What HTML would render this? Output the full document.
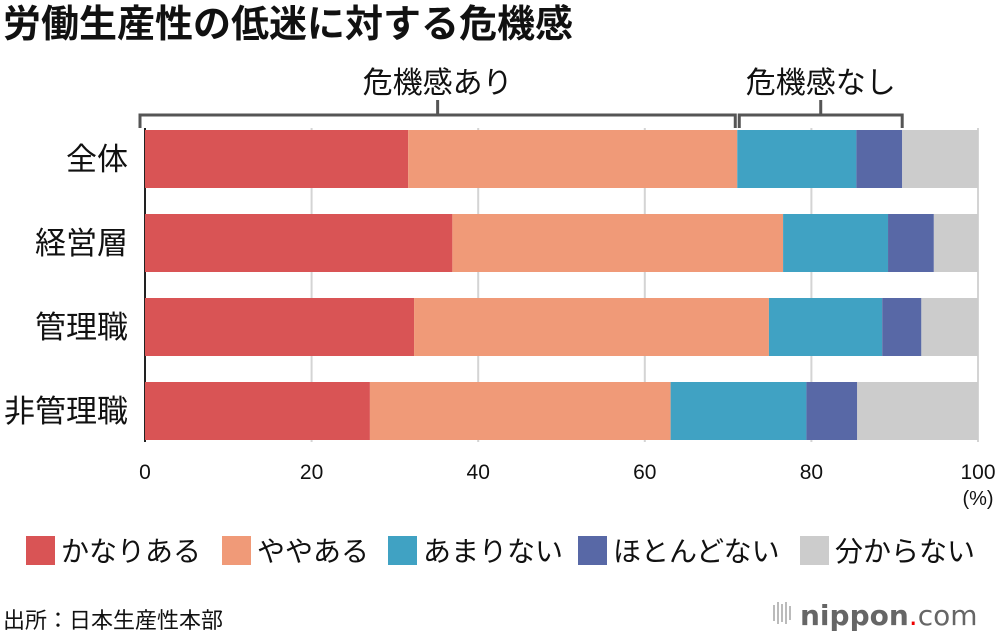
<!DOCTYPE html>
<html><head><meta charset="utf-8"><style>
body{margin:0;background:#fff;width:1000px;height:640px;overflow:hidden;font-family:"Liberation Sans","Noto Sans CJK JP",sans-serif;}
svg{display:block}
</style></head><body>
<svg width="1000" height="640" id="c" font-family="Liberation Sans, Noto Sans CJK JP, sans-serif">
<text x="3" y="37" font-size="38" font-weight="bold" fill="#111">労働生産性の低迷に対する危機感</text>
<g id="grid"></g><g id="bars"></g><g id="axis"></g><g id="brk"></g><g id="legend"></g>
<text x="3" y="628" font-size="22" fill="#111">出所：日本生産性本部</text>
<g>
<g fill="#bbb"><rect x="773" y="605" width="2" height="16"/><rect x="777" y="602" width="2" height="22"/><rect x="781" y="604" width="2" height="18"/><rect x="785" y="602" width="2" height="22"/><rect x="789" y="606" width="2" height="14"/></g>
<text x="800" y="625" font-size="28" fill="#666" font-family="DejaVu Sans, sans-serif"><tspan font-weight="bold">nippon</tspan><tspan fill="#e00">.</tspan><tspan>com</tspan></text>
</g>
</svg>
<script>
const categories=["全体","経営層","管理職","非管理職"];
const seriesNames=["かなりある","ややある","あまりない","ほとんどない","分からない"];
const colors=["#d95455","#f09a78","#40a2c3","#5868a6","#cccccc"];
const s1=[31.6,36.9,32.3,27.0];
const s2=[39.5,39.7,42.6,36.1];
const s3=[14.3,12.6,13.6,16.3];
const s4=[5.5,5.5,4.7,6.1];
const s5=[9.1,5.3,6.8,14.5];
const ticks=[0,20,40,60,80,100];
const NS="http://www.w3.org/2000/svg";
const X0=145,X1=978,x=v=>X0+(X1-X0)*v/100;
const y0=130,step=84,bh=58;
function el(t,a,p){const e=document.createElementNS(NS,t);for(const k in a)e.setAttribute(k,a[k]);document.getElementById(p).appendChild(e);return e;}
ticks.forEach(t=>{const l=el('line',{x1:x(t),x2:x(t),y1:128,y2:442,stroke:t==0?'#222':'#d4d4d4','stroke-width':2},'grid');


const tx=el('text',{x:x(t),y:479,'font-size':21,'text-anchor':'middle',fill:'#111'},'axis');tx.textContent=t;

});
const u=el('text',{x:978,y:505,'font-size':20,'text-anchor':'middle',fill:'#111'},'axis');u.textContent='(%)';


const series=[s1,s2,s3,s4,s5];
categories.forEach((c,i)=>{const y=y0+i*step;let acc=0;
series.forEach((s,j)=>{const r=el('rect',{x:x(acc),y:y,width:x(acc+s[i])-x(acc),height:bh,fill:colors[j]},'bars');

acc+=s[i];});
const t=el('text',{x:128,y:y+bh/2+11,'font-size':31,'text-anchor':'end',fill:'#111'},'axis');t.textContent=c;

});
const a1=s1[0]+s2[0],a2=a1+s3[0]+s4[0];
function brk(l,r,label,name){const d=`M${l},128V115H${r}V128M${(l+r)/2},115V100`;
const p=el('path',{d:d,fill:'none',stroke:'#555','stroke-width':3},'brk');


const t=el('text',{x:(l+r)/2,y:93,'font-size':30,'text-anchor':'middle',fill:'#111'},'brk');t.textContent=label;

}
brk(x(0)-5,x(a1)-2,'危機感あり','bracket-concerned');
brk(x(a1)+2,x(a2),'危機感なし','bracket-unconcerned');
const lx=[26,222,388,578,800];
seriesNames.forEach((n,j)=>{const r=el('rect',{x:lx[j],y:536,width:29,height:29,fill:colors[j]},'legend');


const t=el('text',{x:lx[j]+35,y:561,'font-size':28,fill:'#111'},'legend');t.textContent=n;

});
</script>
</body></html>
